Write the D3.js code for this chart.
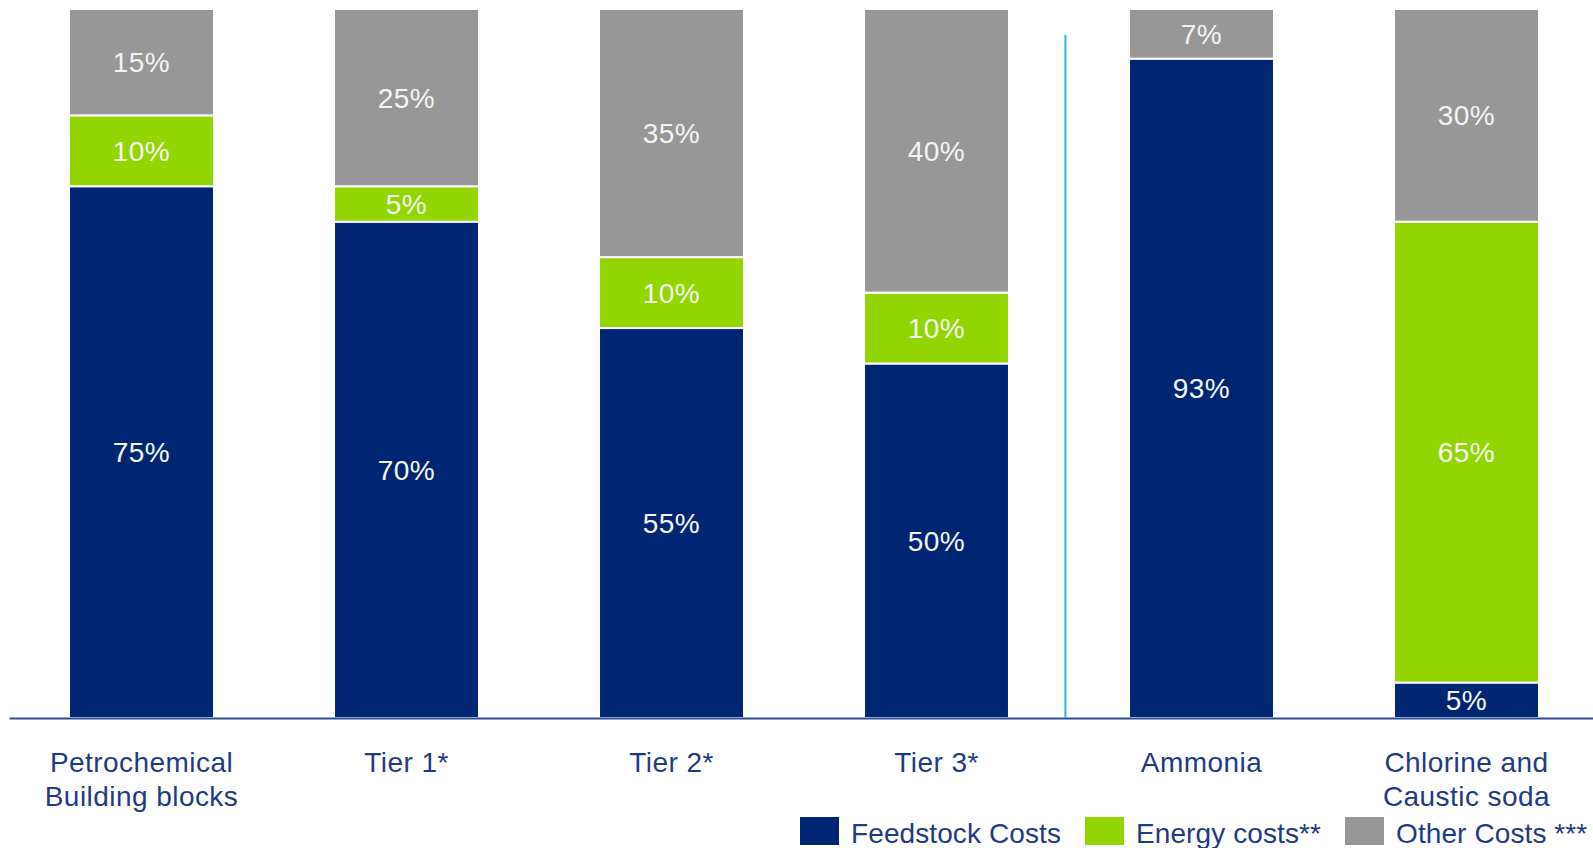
<!DOCTYPE html>
<html>
<head>
<meta charset="utf-8">
<script src="https://cdn.jsdelivr.net/npm/d3@7"></script>
<style>
  html, body { margin: 0; padding: 0; background: #ffffff; }
  svg { display: block; font-family: "Liberation Sans", Arial, sans-serif; }
  text { letter-spacing: 0.45px; }
  .legend text { letter-spacing: 0.1px; }
</style>
</head>
<body>
<svg id="chart" width="1593" height="848"></svg>
<script>
// Cost structure by product group (share of total cost, %)
const categories = [
  ["Petrochemical", "Building blocks"],
  ["Tier 1*"],
  ["Tier 2*"],
  ["Tier 3*"],
  ["Ammonia"],
  ["Chlorine and", "Caustic soda"]
];
const seriesNames = ["Feedstock Costs", "Energy costs**", "Other Costs ***"];
const feedstock = [75, 70, 55, 50, 93, 5];
const energy    = [10,  5, 10, 10,  0, 65];
const other     = [15, 25, 35, 40,  7, 30];

const colors = ["#002673", "#93d500", "#979797"];
const textColor = "#1f3b87";

const svg = d3.select("#chart");
const keys = categories.map(c => c.join(" "));

const x = d3.scaleBand()
  .domain(keys)
  .range([9, 1599])
  .paddingInner(0.453)
  .paddingOuter(0.2265);

const y = d3.scaleLinear().domain([0, 100]).range([718, 9]);

const rows = keys.map((k, i) => ({
  key: k,
  [seriesNames[0]]: feedstock[i],
  [seriesNames[1]]: energy[i],
  [seriesNames[2]]: other[i]
}));

const stacked = d3.stack().keys(seriesNames)(rows);

// stacked bar segments
const layers = svg.append("g")
  .selectAll("g")
  .data(stacked)
  .join("g")
  .attr("fill", (d, i) => colors[i]);

layers.selectAll("rect")
  .data(d => d.filter(s => s[1] - s[0] > 0))
  .join("rect")
  .attr("x", d => x(d.data.key))
  .attr("width", x.bandwidth())
  .attr("y", d => y(d[1]))
  .attr("height", d => y(d[0]) - y(d[1]))
  .attr("stroke", "#ffffff")
  .attr("stroke-width", 2);

// value labels centred in each segment
layers.selectAll("text")
  .data(d => d.filter(s => s[1] - s[0] > 0).map(s => ({ s, key: d.key })))
  .join("text")
  .attr("x", d => x(d.s.data.key) + x.bandwidth() / 2)
  .attr("y", d => (y(d.s[0]) + y(d.s[1])) / 2)
  .attr("dy", "0.36em")
  .attr("text-anchor", "middle")
  .attr("fill", "#f4f4f4")
  .attr("font-size", 28)
  .text(d => (d.s[1] - d.s[0]) + "%");

// category axis
const axis = svg.append("g")
  .attr("transform", `translate(0,${y(0)})`)
  .call(d3.axisBottom(x).tickSize(0).tickFormat(""));
axis.select(".domain").attr("stroke", "#2c4a94").attr("stroke-width", 2);

axis.selectAll(".tick").each(function(d, i) {
  const t = d3.select(this).append("text")
    .attr("fill", textColor)
    .attr("font-size", 28)
    .attr("text-anchor", "middle")
    .attr("y", 54);
  categories[i].forEach((line, j) => {
    t.append("tspan").attr("x", 0).attr("dy", j === 0 ? 0 : 34).text(line);
  });
});

// divider between the product families
const divX = x(keys[4]) - x.step() * 0.24;
svg.append("line")
  .attr("x1", divX).attr("x2", divX)
  .attr("y1", 35).attr("y2", y(0))
  .attr("stroke", "#35aee6")
  .attr("stroke-width", 2);

// legend, one swatch + label per series
const legendX = [800, 1085, 1345];
const legend = svg.append("g").attr("class", "legend");
const items = legend.selectAll("g")
  .data(seriesNames)
  .join("g")
  .attr("transform", (d, i) => `translate(${legendX[i]},817)`);
items.append("rect")
  .attr("width", 39).attr("height", 28)
  .attr("fill", (d, i) => colors[i]);
items.append("text")
  .attr("x", 51).attr("y", 26)
  .attr("fill", textColor)
  .attr("font-size", 28)
  .text(d => d);
</script>
</body>
</html>
